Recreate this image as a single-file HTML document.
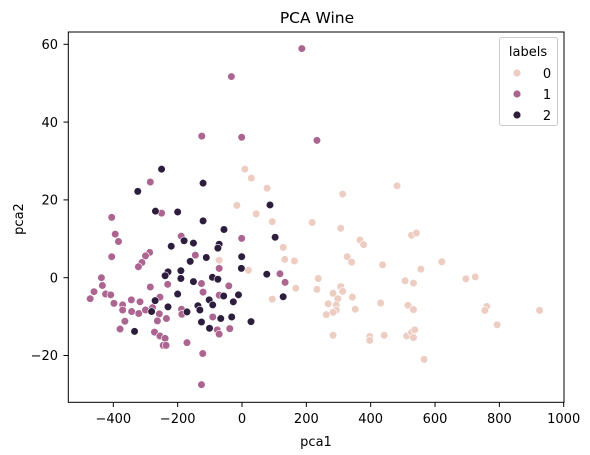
<!DOCTYPE html>
<html><head><meta charset="utf-8"><style>
html,body{margin:0;padding:0;background:#fff;}
svg{display:block;font-family:"DejaVu Sans","Liberation Sans",sans-serif;}
</style></head><body>
<svg id="chart" width="590" height="455" viewBox="0 0 590 455" xmlns="http://www.w3.org/2000/svg">
<text x="317" y="23" font-size="15.5" text-anchor="middle" fill="#000">PCA Wine</text>
<g id="points"></g>
<rect x="68.3" y="32" width="495.7" height="370.3" fill="none" stroke="#000" stroke-width="1"/>
<g id="xticks"></g>
<g id="yticks"></g>
<text x="316" y="446" font-size="13" text-anchor="middle">pca1</text>
<text x="23" y="219" font-size="13" text-anchor="middle" transform="rotate(-90 23 219)">pca2</text>
<g>
<rect x="499.5" y="37.5" width="58" height="88" rx="2" fill="#fff" fill-opacity="0.8" stroke="#ccc"/>
<text x="528" y="56" font-size="13" text-anchor="middle">labels</text>
<g><circle cx="517" cy="73" r="3.6" fill="#edccc2"/><text x="547" y="78" font-size="13" text-anchor="middle">0</text></g>
<g><circle cx="517" cy="94" r="3.6" fill="#ac6590"/><text x="547" y="99" font-size="13" text-anchor="middle">1</text></g>
<g><circle cx="517" cy="115" r="3.6" fill="#2d1e3e"/><text x="547" y="120" font-size="13" text-anchor="middle">2</text></g>
</g>
</svg>
<script>
const xTicks=[-400,-200,0,200,400,600,800,1000];
const yTicks=[-20,0,20,40,60];
const colors=["#edccc2","#ac6590","#2d1e3e"];
const x0=[9,29,78,-16,44,94,482,313,218,307,367,378,527,542,128,133,163,-71,20,327,341,437,621,556,237,233,167,94,307,313,283,298,268,293,293,262,283,343,352,431,507,533,516,533,696,725,761,755,793,925,283,397,397,442,512,527,537,533,566];
const y0=[27.9,25.6,23.0,18.6,16.4,14.4,23.6,21.5,14.2,12.7,9.7,8.5,10.9,11.5,7.8,4.7,4.3,4.5,1.9,5.4,4.0,3.3,4.1,2.2,-0.2,-3.0,-2.7,-5.5,-2.3,-3.5,-4.0,-5.4,-6.7,-7.0,-8.3,-9.5,-8.9,-5.0,-8.1,-6.5,-0.8,-1.4,-7.1,-8.2,-0.3,0.2,-7.4,-8.4,-12.1,-8.4,-14.8,-15.1,-16.1,-14.8,-15.0,-14.1,-13.4,-15.4,-21.0];
const x1=[-285,-250,-405,-394,-384,-405,-287,-300,-311,-322,-189,-1,-145,-71,-437,-434,-460,-472,-424,-408,-398,-285,-231,-126,-121,-41,-71,-344,-317,-371,-371,-343,-321,-300,-278,-255,-257,-364,-379,-263,-235,-188,-187,-91,-77,-71,-38,-272,-255,-239,-245,-236,-171,-122,-126,118,134,186,-33,-125,-1,233];
const y1=[24.6,16.6,15.5,11.2,9.3,5.4,6.5,5.6,3.9,2.8,10.7,10.1,5.8,2.4,0,-2.0,-3.6,-5.4,-4.2,-4.4,-6.6,-2.4,-1.7,-1.5,-3.7,-2.1,-4.5,-5.7,-6.2,-7.0,-8.3,-8.7,-9.2,-8.3,-7.7,-5.0,-9.3,-11.2,-13.2,-11.1,-10.5,-8.1,-9.4,-10.1,-13.4,-14.5,-13.1,-14.0,-15.0,-15.6,-17.4,-17.4,-16.7,-19.5,-27.5,1.0,-1.2,58.9,51.7,36.4,36.1,35.3];
const x2=[-250,-121,-324,-269,-200,-121,-56,-180,-151,-220,-71,-75,-111,-161,-1,-2,-230,-239,-190,-190,-151,-92,-75,-200,-102,-91,-57,-11,-27,-270,-281,-230,-171,-137,-131,-126,-101,-66,-32,28,-334,77,87,103,128];
const y2=[27.9,24.3,22.2,17.1,16.9,14.6,12.4,9.5,8.9,8.1,8.6,7.6,5.2,4.2,5.4,2.4,1.5,0.5,1.8,-0.2,-1.0,0.1,-0.4,-4.2,-5.7,-7.0,-4.7,-4.4,-6.2,-5.9,-8.7,-7.5,-8.8,-7.2,-8.3,-11.4,-13.0,-10.5,-10.1,-11.3,-13.8,0.9,18.7,10.4,-4.9];
const NS="http://www.w3.org/2000/svg";
function sx(v){return 242+v*0.3217;}
function sy(v){return 277.7-v*3.89;}
const xt=document.getElementById('xticks');
xTicks.forEach(function(t){
  const X=sx(t);
  const l=document.createElementNS(NS,'line');
  l.setAttribute('x1',X);l.setAttribute('x2',X);l.setAttribute('y1',402.3);l.setAttribute('y2',407);l.setAttribute('stroke','#000');
  
  
  xt.appendChild(l);
  const s=document.createElementNS(NS,'text');
  s.setAttribute('x',X);s.setAttribute('y',423);s.setAttribute('font-size','13');s.setAttribute('text-anchor','middle');
  s.textContent=String(t).replace('-','\u2212');
  
  
  xt.appendChild(s);
});
const yt=document.getElementById('yticks');
yTicks.forEach(function(t){
  const Y=sy(t);
  const l=document.createElementNS(NS,'line');
  l.setAttribute('x1',63.5);l.setAttribute('x2',68.3);l.setAttribute('y1',Y);l.setAttribute('y2',Y);l.setAttribute('stroke','#000');
  
  
  yt.appendChild(l);
  const s=document.createElementNS(NS,'text');
  s.setAttribute('x',58);s.setAttribute('y',Y+4.7);s.setAttribute('font-size','13');s.setAttribute('text-anchor','end');
  s.textContent=String(t).replace('-','\u2212');
  
  
  yt.appendChild(s);
});
const pg=document.getElementById('points');
[[x0,y0,0],[x1,y1,1],[x2,y2,2]].forEach(function(set){
  const xs=set[0],ys=set[1],k=set[2];
  for(let i=0;i<xs.length;i++){
    const c=document.createElementNS(NS,'circle');
    c.setAttribute('cx',sx(xs[i]));c.setAttribute('cy',sy(ys[i]));c.setAttribute('r',3.8);
    c.setAttribute('fill',colors[k]);c.setAttribute('stroke','#fff');c.setAttribute('stroke-width','0.6');
    
    
    pg.appendChild(c);
  }
});
</script>
</body></html>
